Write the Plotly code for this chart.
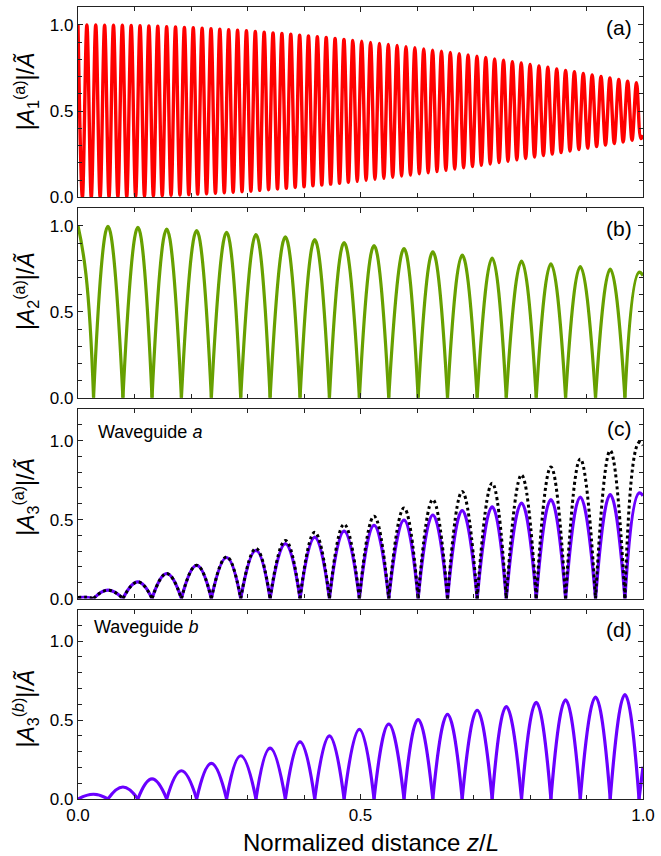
import plotly.graph_objects as go

# ---------------- data ----------------
# Panel (a): |A1(a)| fast oscillation, sampled at peaks and troughs
z_a = [0.0, 0.0078, 0.0157, 0.0235, 0.0314, 0.0392, 0.0471, 0.0549, 0.0628, 0.0706,
       0.0785, 0.0863, 0.0941, 0.1020, 0.1098, 0.1177, 0.1255, 0.1334, 0.1412, 0.1491,
       0.1569, 0.1647, 0.1726, 0.1804, 0.1883, 0.1961, 0.2040, 0.2118, 0.2197, 0.2275,
       0.2354, 0.2432, 0.2510, 0.2589, 0.2667, 0.2746, 0.2824, 0.2903, 0.2981, 0.3060,
       0.3138, 0.3216, 0.3295, 0.3373, 0.3452, 0.3530, 0.3609, 0.3687, 0.3766, 0.3844,
       0.3923, 0.4001, 0.4079, 0.4158, 0.4236, 0.4315, 0.4393, 0.4472, 0.4550, 0.4629,
       0.4707, 0.4785, 0.4864, 0.4942, 0.5021, 0.5099, 0.5178, 0.5256, 0.5335, 0.5413,
       0.5492, 0.5570, 0.5648, 0.5727, 0.5805, 0.5884, 0.5962, 0.6041, 0.6119, 0.6198,
       0.6276, 0.6354, 0.6433, 0.6511, 0.6590, 0.6668, 0.6747, 0.6825, 0.6904, 0.6982,
       0.7061, 0.7139, 0.7217, 0.7296, 0.7374, 0.7453, 0.7531, 0.7610, 0.7688, 0.7767,
       0.7845, 0.7923, 0.8002, 0.8080, 0.8159, 0.8237, 0.8316, 0.8394, 0.8473, 0.8551,
       0.8630, 0.8708, 0.8786, 0.8865, 0.8943, 0.9022, 0.9100, 0.9179, 0.9257, 0.9336,
       0.9414, 0.9492, 0.9571, 0.9649, 0.9728, 0.9806, 0.9885, 0.9963, 1.0]
a1_peaks = [1.000, 1.000, 1.000, 0.999, 0.998, 0.998, 0.997, 0.995, 0.994, 0.992,
            0.990, 0.988, 0.986, 0.984, 0.981, 0.978, 0.975, 0.972, 0.969, 0.966,
            0.962, 0.958, 0.954, 0.950, 0.946, 0.941, 0.936, 0.932, 0.927, 0.921,
            0.916, 0.910, 0.905, 0.899, 0.893, 0.887, 0.881, 0.874, 0.868, 0.861,
            0.854, 0.847, 0.840, 0.833, 0.826, 0.818, 0.811, 0.803, 0.795, 0.787,
            0.779, 0.770, 0.762, 0.754, 0.745, 0.736, 0.728, 0.719, 0.710, 0.701,
            0.692, 0.683, 0.674, 0.665]
a1_troughs = [0.000, 0.000, 0.001, 0.001, 0.002, 0.003, 0.004, 0.005, 0.007, 0.009,
              0.011, 0.013, 0.015, 0.018, 0.020, 0.023, 0.026, 0.029, 0.033, 0.036,
              0.040, 0.044, 0.048, 0.052, 0.057, 0.061, 0.066, 0.071, 0.076, 0.081,
              0.087, 0.092, 0.098, 0.104, 0.110, 0.116, 0.123, 0.129, 0.136, 0.142,
              0.149, 0.156, 0.164, 0.171, 0.178, 0.186, 0.193, 0.201, 0.209, 0.217,
              0.225, 0.234, 0.242, 0.251, 0.259, 0.268, 0.277, 0.285, 0.294, 0.303,
              0.312, 0.321, 0.331, 0.340]
a1_end = 0.36

# Arch positions shared by panels (b)-(d)
z_peak = [0.0, 0.053, 0.106, 0.157, 0.210, 0.263, 0.315, 0.367, 0.419, 0.471,
          0.524, 0.577, 0.628, 0.680, 0.733, 0.785, 0.837, 0.889, 0.942, 0.993]
z_zero = [0.0275, 0.0795, 0.131, 0.183, 0.236, 0.288, 0.340, 0.393, 0.445, 0.498,
          0.550, 0.602, 0.654, 0.7065, 0.758, 0.811, 0.863, 0.916, 0.968]

# Panel (b): |A2(a)|
b_peaks = [1.0, 0.998, 0.992, 0.982, 0.973, 0.963, 0.950, 0.936, 0.920, 0.903,
           0.886, 0.868, 0.849, 0.830, 0.813, 0.795, 0.780, 0.764, 0.749, 0.731]
b_start_mid = (0.014, 0.72)
b_end = 0.71

# Panel (c): |A3(a)| solid and dotted, peaks n = 1..19
c_solid = [0.053, 0.105, 0.158, 0.210, 0.260, 0.305, 0.348, 0.389, 0.427, 0.463,
           0.497, 0.529, 0.556, 0.581, 0.605, 0.626, 0.643, 0.658, 0.668]
c_dotted = [0.053, 0.105, 0.158, 0.211, 0.264, 0.317, 0.368, 0.419, 0.470, 0.521,
            0.573, 0.625, 0.677, 0.730, 0.782, 0.833, 0.884, 0.936, 0.988]
c_start = [(0.0, 0.006), (0.014, 0.008)]
c_solid_end = 0.65
c_dotted_end = 0.97

# Panel (d): |A3(b)|, peaks located at the zeros of (b)
d_peaks = [0.030, 0.076, 0.127, 0.179, 0.226, 0.274, 0.322, 0.362, 0.400, 0.441,
           0.474, 0.503, 0.536, 0.562, 0.586, 0.612, 0.628, 0.645, 0.661]
d_end = 0.205

# ---------------- build arch segments ----------------
def interleave(p, t, end):
    out = []
    for a, b in zip(p, t):
        out += [a, b]
    return out + [end]

a1 = interleave(a1_peaks, a1_troughs, a1_end)

def seg_add(xs, ys, pts):
    for x, y in pts:
        xs.append(x); ys.append(y)
    xs.append(None); ys.append(None)

# (b)
xb, yb = [], []
seg_add(xb, yb, [(z_peak[0], b_peaks[0]), b_start_mid, (z_zero[0], 0.0)])
for n in range(1, 19):
    seg_add(xb, yb, [(z_zero[n - 1], 0.0), (z_peak[n], b_peaks[n]), (z_zero[n], 0.0)])
seg_add(xb, yb, [(z_zero[18], 0.0), (z_peak[19], b_peaks[19]), (1.0, b_end)])

# (c)
def build_c(vals, end):
    xs, ys = [], []
    seg_add(xs, ys, c_start + [(z_zero[0], 0.0)])
    for n in range(1, 19):
        seg_add(xs, ys, [(z_zero[n - 1], 0.0), (z_peak[n], vals[n - 1]), (z_zero[n], 0.0)])
    seg_add(xs, ys, [(z_zero[18], 0.0), (z_peak[19], vals[18]), (1.0, end)])
    return xs, ys

xcs, ycs = build_c(c_solid, c_solid_end)
xcd, ycd = build_c(c_dotted, c_dotted_end)

# (d)
d_zero = [0.0] + z_peak[1:]
xd, yd = [], []
for n in range(19):
    seg_add(xd, yd, [(d_zero[n], 0.0), (z_zero[n], d_peaks[n]), (d_zero[n + 1], 0.0)])
seg_add(xd, yd, [(d_zero[19], 0.0), (1.0, d_end)])

# ---------------- figure ----------------
RED = "#ff0000"
GREEN = "#67a000"
PURPLE = "#6a00ff"
FONT = "Liberation Sans, Arial, Helvetica, sans-serif"

fig = go.Figure()
fig.add_trace(go.Scatter(x=z_a, y=a1, mode="lines", xaxis="x", yaxis="y",
                         line=dict(color=RED, width=3.4, shape="spline", smoothing=1.0, simplify=False)))
fig.add_trace(go.Scatter(x=xb, y=yb, mode="lines", xaxis="x2", yaxis="y2", connectgaps=False,
                         line=dict(color=GREEN, width=3.2, shape="spline", smoothing=1.3, simplify=False)))
fig.add_trace(go.Scatter(x=xcs, y=ycs, mode="lines", xaxis="x3", yaxis="y3", connectgaps=False,
                         line=dict(color=PURPLE, width=3.2, shape="spline", smoothing=1.3, simplify=False)))
fig.add_trace(go.Scatter(x=xcd, y=ycd, mode="lines", xaxis="x3", yaxis="y3", connectgaps=False,
                         line=dict(color="black", width=3, dash="dot", shape="spline", smoothing=1.3, simplify=False)))
fig.add_trace(go.Scatter(x=xd, y=yd, mode="lines", xaxis="x4", yaxis="y4", connectgaps=False,
                         line=dict(color=PURPLE, width=3.2, shape="spline", smoothing=1.3, simplify=False)))

H_TOP, H_BOT = 6, 57
PH = 856 - H_TOP - H_BOT
def py(pix):
    return 1 - (pix - H_TOP) / PH

panels = [(6, 196.5, 1.104), (207.3, 397.3, 1.104), (408.5, 598.3, 1.2), (609.3, 799.0, 1.2)]
FRAME = "#222222"
common_ax = dict(showline=True, linecolor=FRAME, linewidth=1.3, mirror="ticks",
                 ticks="inside", ticklen=5, tickwidth=1.1, tickcolor=FRAME,
                 showgrid=False, zeroline=False,
                 tickfont=dict(family=FONT, size=17, color="black"))
layout = {}
for i, (top, bot, ymax) in enumerate(panels, start=1):
    sfx = "" if i == 1 else str(i)
    layout["xaxis" + sfx] = dict(common_ax, domain=[0, 1], anchor="y" + sfx, range=[0, 1],
                                 dtick=0.5, tick0=0, tickformat=".1f",
                                 showticklabels=(i == 4),
                                 minor=dict(dtick=0.1, ticks="inside", ticklen=4,
                                            tickcolor=FRAME, tickwidth=1.1))
    layout["yaxis" + sfx] = dict(common_ax, domain=[max(0, py(bot)), min(1, py(top))],
                                 anchor="x" + sfx, range=[0, ymax],
                                 dtick=0.5, tick0=0, tickformat=".1f",
                                 minor=dict(dtick=0.1, ticks="inside", ticklen=4,
                                            tickcolor=FRAME, tickwidth=1.1))

annotations = []
ytitles = [
    ("|<i>A</i><sub>1</sub><sup>(a)</sup>|/<i>Ã</i>", 90),
    ("|<i>A</i><sub>2</sub><sup>(a)</sup>|/<i>Ã</i>", 290),
    ("|<i>A</i><sub>3</sub><sup>(a)</sup>|/<i>Ã</i>", 496),
    ("|<i>A</i><sub>3</sub><sup>(<i>b</i>)</sup>|/<i>Ã</i>", 708),
]
for txt, ypix in ytitles:
    annotations.append(dict(text=txt, xref="paper", yref="paper", x=(25 - 78) / 570, y=py(ypix),
                            xanchor="center", yanchor="middle", textangle=-90, showarrow=False,
                            font=dict(family=FONT, size=23, color="black")))
for i, lab in enumerate(["(a)", "(b)", "(c)", "(d)"], start=1):
    sfx = "" if i == 1 else str(i)
    annotations.append(dict(text=lab, xref="x" + sfx + " domain", yref="y" + sfx + " domain",
                            x=1, y=1, xanchor="right", yanchor="middle", xshift=-9, yshift=-20,
                            showarrow=False, font=dict(family=FONT, size=21, color="black")))
annotations.append(dict(text="Waveguide <i>a</i>", xref="x3 domain", yref="y3 domain", x=0, y=1,
                        xanchor="left", yanchor="middle", xshift=18, yshift=-23, showarrow=False,
                        font=dict(family=FONT, size=18, color="black")))
annotations.append(dict(text="Waveguide <i>b</i>", xref="x4 domain", yref="y4 domain", x=0, y=1,
                        xanchor="left", yanchor="middle", xshift=14, yshift=-17, showarrow=False,
                        font=dict(family=FONT, size=18, color="black")))
annotations.append(dict(text="Normalized distance <i>z</i>/<i>L</i>", xref="paper", yref="paper",
                        x=(374 - 78) / 570, y=py(843), xanchor="center", yanchor="middle",
                        showarrow=False, font=dict(family=FONT, size=24, color="black")))

fig.update_layout(**layout)
fig.update_layout(width=661, height=856, margin=dict(l=78, r=13, t=H_TOP, b=H_BOT),
                  paper_bgcolor="white", plot_bgcolor="white", showlegend=False,
                  annotations=annotations, font=dict(family=FONT))
fig.write_html("out.html", config={"displayModeBar": False},
               post_script="document.body.style.margin='0px';document.body.style.padding='0px';")
